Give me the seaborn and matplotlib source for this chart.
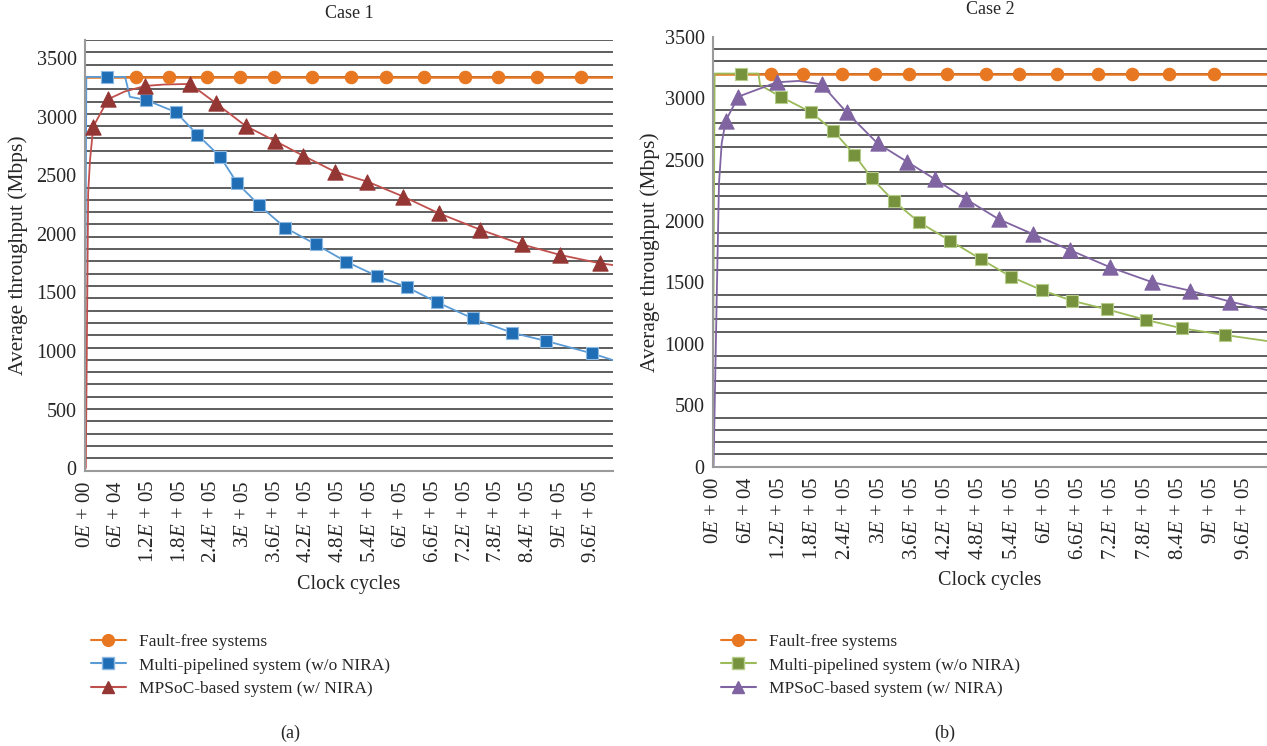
import numpy as np
import pandas as pd
import matplotlib
matplotlib.use("Agg")
import matplotlib.pyplot as plt
from matplotlib.lines import Line2D
import seaborn as sns

# ---------------- data ----------------
x_ticks = [0, 60000, 120000, 180000, 240000, 300000, 360000, 420000, 480000,
           540000, 600000, 660000, 720000, 780000, 840000, 900000, 960000]
x_ticklabels = ["0$E$ + 00", "6$E$ + 04", "1.2$E$ + 05", "1.8$E$ + 05", "2.4$E$ + 05",
                "3$E$ + 05", "3.6$E$ + 05", "4.2$E$ + 05", "4.8$E$ + 05", "5.4$E$ + 05",
                "6$E$ + 05", "6.6$E$ + 05", "7.2$E$ + 05", "7.8$E$ + 05", "8.4$E$ + 05",
                "9$E$ + 05", "9.6$E$ + 05"]
y_ticks = [0, 500, 1000, 1500, 2000, 2500, 3000, 3500]

series_names = ["Fault-free systems", "Multi-pipelined system (w/o NIRA)",
                "MPSoC-based system (w/ NIRA)"]

# Case 1 -- marked points
ff1_x = [96600, 159000, 231000, 294000, 358000, 430000, 504000, 570000, 642000,
         720000, 782000, 856000, 939000]
ff1_y = [3340] * 13
ff1_extra_x = [0, 1000000]
ff1_extra_y = [3340, 3340]

mp1_x = [41000, 115000, 172000, 213000, 256000, 288000, 330000, 379000, 437000,
         494000, 553000, 610000, 667000, 734000, 809000, 874000, 960000]
mp1_y = [3340, 3144, 3039, 2847, 2659, 2435, 2244, 2053, 1911, 1764, 1640, 1544,
         1416, 1279, 1156, 1085, 980]
mp1_extra_x = [0, 2500, 76000, 85000, 1000000]
mp1_extra_y = [700, 3340, 3340, 3170, 922]

ms1_x = [15700, 44000, 114000, 199000, 248000, 304000, 360000, 413000, 473000,
         535000, 603000, 670000, 748000, 827000, 900000, 975000]
ms1_y = [2916, 3150, 3263, 3280, 3115, 2922, 2793, 2668, 2531, 2446, 2318, 2176,
         2037, 1911, 1820, 1749]
ms1_extra_x = [1500, 6000, 9500, 75000, 150000, 1000000]
ms1_extra_y = [0, 2350, 2630, 3215, 3275, 1734]

# Case 2 -- marked points
ff2_x = [104000, 163000, 233000, 292000, 353000, 422000, 493000, 552000, 621000,
         695000, 756000, 824000, 905000]
ff2_y = [3200] * 13
ff2_extra_x = [0, 1000000]
ff2_extra_y = [3200, 3200]

mp2_x = [50500, 122000, 177000, 217000, 255000, 287000, 326000, 372000, 428000,
         484000, 538000, 593000, 648000, 711000, 782000, 847000, 924000]
mp2_y = [3200, 3012, 2885, 2735, 2540, 2347, 2163, 1990, 1840, 1688, 1546, 1438,
         1351, 1281, 1194, 1126, 1072]
mp2_extra_x = [0, 3000, 82000, 85000, 1000000]
mp2_extra_y = [580, 3200, 3200, 3106, 1023]

ms2_x = [23000, 45700, 115000, 196000, 241000, 297000, 350000, 401000, 456000,
         516000, 578000, 644000, 717000, 792000, 861000, 934000]
ms2_y = [2816, 3012, 3129, 3112, 2885, 2632, 2483, 2339, 2179, 2014, 1892, 1764,
         1623, 1503, 1433, 1343]
ms2_extra_x = [1000, 6700, 10800, 15700, 155000, 1000000]
ms2_extra_y = [0, 1370, 2307, 2632, 3140, 1275]

# ---------------- style ----------------
sns.set_theme(style="white")
plt.rcParams["font.family"] = ["Liberation Serif", "DejaVu Serif"]
plt.rcParams["mathtext.fontset"] = "custom"
plt.rcParams["mathtext.rm"] = "Liberation Serif"
plt.rcParams["mathtext.it"] = "Liberation Serif:italic"

W, H = 1267, 746
fig = plt.figure(figsize=(W / 100, H / 100), dpi=100)


def px_axes(l, t, r, b):
    return fig.add_axes([l / W, 1 - b / H, (r - l) / W, (b - t) / H])


ax1 = px_axes(85, 40, 613, 470.5)
ax2 = px_axes(713, 36.7, 1267, 466.7)

c_orange = "#E87722"
styles = {
    "case1": [
        (c_orange, c_orange, c_orange, "o", 80),
        ("#5B9BD5", "#1F6EB5", "#8DB8E2", "s", 80),
        ("#C0504D", "#943634", "#943634", "^", 120),
    ],
    "case2": [
        (c_orange, c_orange, c_orange, "o", 80),
        ("#9BBB59", "#76923C", "#B5CC8A", "s", 80),
        ("#8064A2", "#8064A2", "#8064A2", "^", 120),
    ],
}


def line_df(mx, my, ex, ey):
    df = pd.DataFrame({"x": list(mx) + list(ex), "y": list(my) + list(ey)})
    return df.sort_values("x").reset_index(drop=True)


def draw(ax, data, key):
    for (mx, my, ex, ey), (lc, mfc, mec, mk, s) in zip(data, styles[key]):
        df = line_df(mx, my, ex, ey)
        sns.lineplot(data=df, x="x", y="y", ax=ax, color=lc, lw=1.3 if mk != "o" else 1.8,
                     estimator=None, sort=False, legend=False)
        sns.scatterplot(x=mx, y=my, ax=ax, marker=mk, s=s, color=mfc, edgecolor=mec,
                        linewidth=0.8, legend=False, zorder=5)


draw(ax1, [(ff1_x, ff1_y, ff1_extra_x, ff1_extra_y),
           (mp1_x, mp1_y, mp1_extra_x, mp1_extra_y),
           (ms1_x, ms1_y, ms1_extra_x, ms1_extra_y)], "case1")
draw(ax2, [(ff2_x, ff2_y, ff2_extra_x, ff2_extra_y),
           (mp2_x, mp2_y, mp2_extra_x, mp2_extra_y),
           (ms2_x, ms2_y, ms2_extra_x, ms2_extra_y)], "case2")

ax1.set_ylim(-20, 3655)
ax2.set_ylim(0, 3500)
grid1 = np.linspace(-20, 3655, 36)
grid2 = np.arange(0, 3501, 100)

label_pos = {id(ax1): ((18 - 85) / 528, (470.5 - 585) / 430.5),
             id(ax2): ((650 - 713) / 554, (466.7 - 580) / 430.0)}

for ax, grid in ((ax1, grid1), (ax2, grid2)):
    ax.set_xlim(0, 1000000)
    ax.set_xticks(x_ticks)
    ax.set_xticklabels(x_ticklabels, rotation=90, fontsize=15)
    ax.set_yticks(y_ticks)
    ax.set_yticklabels([str(v) for v in y_ticks], fontsize=14.5)
    ax.set_yticks(grid, minor=True)
    ax.grid(False)
    ax.grid(True, which="minor", axis="y", color="#333333", lw=1.1, zorder=0)
    ax.set_axisbelow(True)
    ax.tick_params(axis="x", length=0, pad=7)
    ax.tick_params(axis="y", which="major", length=0, pad=6)
    ax.tick_params(axis="y", which="minor", length=4, color="#888888", width=1)
    for sp in ("top", "right"):
        ax.spines[sp].set_visible(False)
    for sp in ("left", "bottom"):
        ax.spines[sp].set_color("#9a9a9a")
        ax.spines[sp].set_linewidth(1.5)
    ax.set_xlabel("Clock cycles", fontsize=14.5, va="center")
    ax.set_ylabel("Average throughput (Mbps)", fontsize=15.5, va="center")
    lx, ly = label_pos[id(ax)]
    ax.yaxis.set_label_coords(lx, 0.5)
    ax.xaxis.set_label_coords(0.5, ly)

fig.text(349 / W, 1 - 14 / H, "Case 1", ha="center", va="center", fontsize=13)
fig.text(990 / W, 1 - 9 / H, "Case 2", ha="center", va="center", fontsize=13)

for ax, key, xl in ((ax1, "case1", 84), (ax2, "case2", 714)):
    handles = []
    for name, (lc, mfc, mec, mk, s) in zip(series_names, styles[key]):
        handles.append(Line2D([], [], color=lc, lw=1.5, marker=mk, markersize=8.5,
                              markerfacecolor=mfc, markeredgecolor=mec))
    fig.legend(handles=handles, labels=series_names, loc="upper left",
               bbox_to_anchor=(xl / W, 1 - 627 / H), frameon=False, fontsize=12.5,
               handlelength=2.0, handletextpad=0.75, labelspacing=0.42, borderaxespad=0)

fig.text(290 / W, 1 - 733 / H, "(a)", ha="center", va="center", fontsize=13)
fig.text(945 / W, 1 - 733 / H, "(b)", ha="center", va="center", fontsize=13)

fig.savefig("out.png", dpi=100)
